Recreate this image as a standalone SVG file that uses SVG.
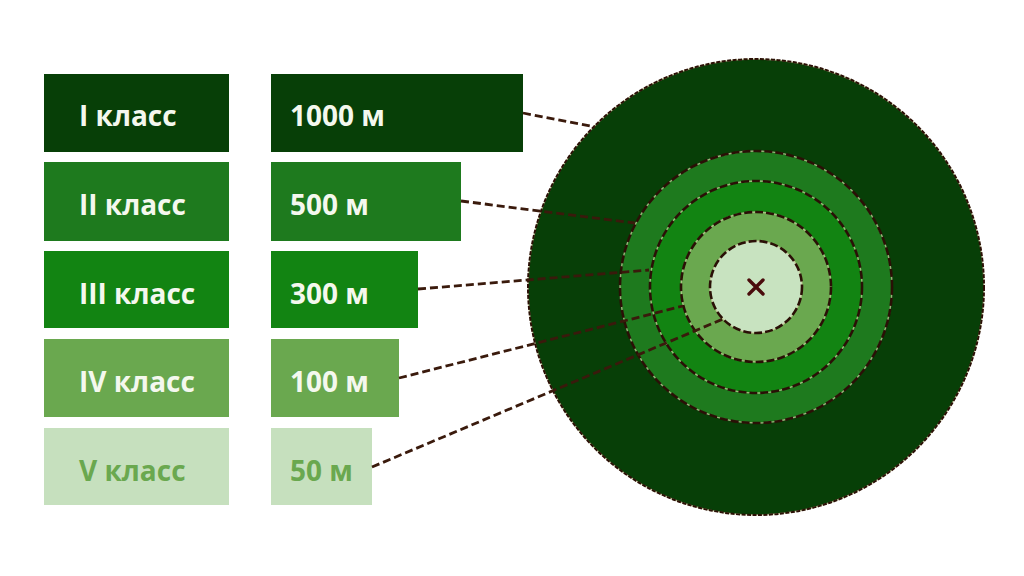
<svg xmlns="http://www.w3.org/2000/svg" width="1024" height="576" viewBox="0 0 1024 576">
<style>
.lbl{font-family:"Open Sans","Noto Sans","Liberation Sans",sans-serif;font-weight:bold;font-size:28px;fill:#f4f8ee}
.lblv{fill:#6aa84f}
.halo{fill:none;stroke:#d8d2a8;stroke-width:1.4;stroke-opacity:0.7}
.ring{stroke:#2a1006;stroke-width:2.6;stroke-dasharray:8 3}
.outer{stroke:#2a1006;stroke-width:2;stroke-dasharray:4 1.5}
.conn{fill:none;stroke:#3a1a0c;stroke-width:2.8;stroke-dasharray:8 4}
</style>
<rect width="1024" height="576" fill="#ffffff"/>
<g id="row1">
<rect x="44" y="74" width="185" height="78" fill="#073f07"/>
<text class="lbl" x="79" y="126">I класс</text>
<rect x="271" y="74" width="252" height="78" fill="#073f07"/>
<text class="lbl" x="290" y="126">1000 м</text>
</g>
<g id="row2">
<rect x="44" y="162" width="185" height="79" fill="#1e7a1e"/>
<text class="lbl" x="79" y="215">II класс</text>
<rect x="271" y="162" width="190" height="79" fill="#1e7a1e"/>
<text class="lbl" x="290" y="215">500 м</text>
</g>
<g id="row3">
<rect x="44" y="251" width="185" height="77" fill="#128412"/>
<text class="lbl" x="79" y="304">III класс</text>
<rect x="271" y="251" width="147" height="77" fill="#128412"/>
<text class="lbl" x="290" y="304">300 м</text>
</g>
<g id="row4">
<rect x="44" y="339" width="185" height="78" fill="#6aa84f"/>
<text class="lbl" x="79" y="392">IV класс</text>
<rect x="271" y="339" width="128" height="78" fill="#6aa84f"/>
<text class="lbl" x="290" y="392">100 м</text>
</g>
<g id="row5">
<rect x="44" y="428" width="185" height="77" fill="#c6e0be"/>
<text class="lbl lblv" x="79" y="481">V класс</text>
<rect x="271" y="428" width="101" height="77" fill="#c6e0be"/>
<text class="lbl lblv" x="290" y="481">50 м</text>
</g>
<g id="zones">
<circle cx="756" cy="287" r="228" fill="#073f07"/>
<circle class="halo" cx="756" cy="287" r="228"/>
<circle class="outer" cx="756" cy="287" r="228" fill="none"/>
<circle cx="756" cy="287" r="136" fill="#1e7a1e"/>
<circle class="halo" cx="756" cy="287" r="136"/>
<circle class="ring" cx="756" cy="287" r="136" fill="none"/>
<circle cx="756" cy="287" r="106" fill="#128412"/>
<circle class="halo" cx="756" cy="287" r="106"/>
<circle class="ring" cx="756" cy="287" r="106" fill="none"/>
<circle cx="756" cy="287" r="75" fill="#6aa84f"/>
<circle class="halo" cx="756" cy="287" r="75"/>
<circle class="ring" cx="756" cy="287" r="75" fill="none"/>
<circle cx="756" cy="287" r="46" fill="#c8e3c0"/>
<circle class="halo" cx="756" cy="287" r="46"/>
<circle class="ring" cx="756" cy="287" r="46" fill="none"/>
<path d="M749 280 L763 294 M763 280 L749 294" stroke="#4a0c0c" stroke-width="3.4" stroke-linecap="round"/>
</g>
<g id="connectors">
<line class="conn" x1="523" y1="113" x2="595" y2="127"/>
<line class="conn" x1="461" y1="201" x2="635" y2="223"/>
<line class="conn" x1="418" y1="289" x2="649" y2="270"/>
<line class="conn" x1="399" y1="378" x2="683" y2="306"/>
<line class="conn" x1="372" y1="467" x2="723" y2="319"/>
</g>
</svg>
